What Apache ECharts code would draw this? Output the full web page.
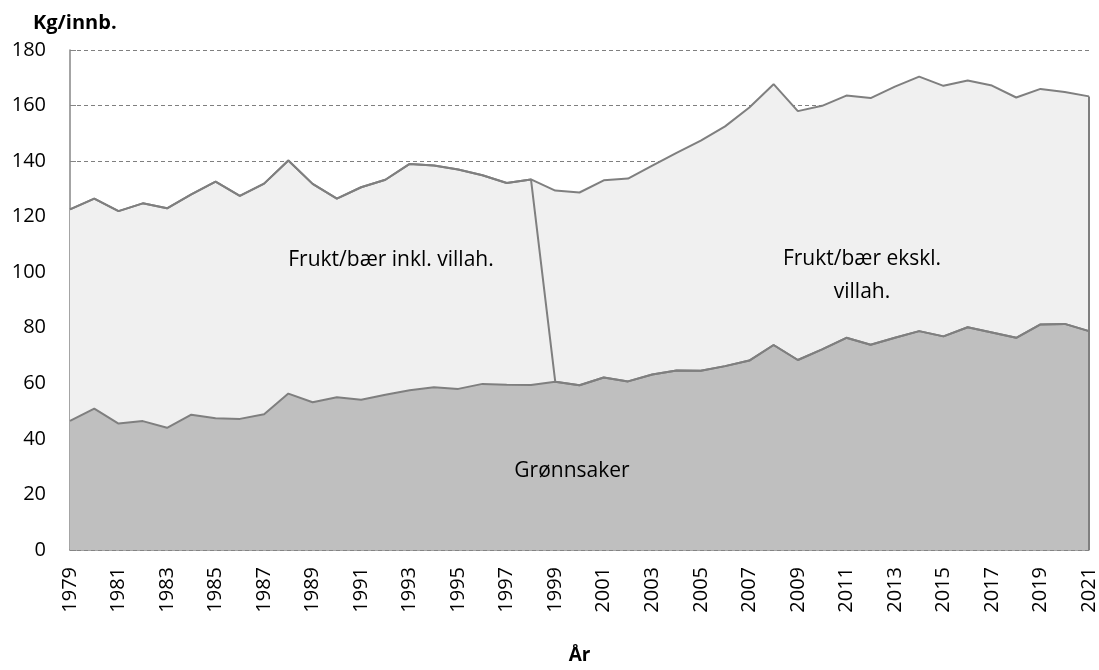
<!DOCTYPE html>
<html>
<head>
<meta charset="utf-8">
<script src="https://cdn.jsdelivr.net/npm/echarts@6/dist/echarts.min.js"></script>
<style>
  html, body { margin: 0; padding: 0; background: #fff; }
  #chart { width: 1099px; height: 670px; }
</style>
</head>
<body>
<div id="chart"></div>
<script>
const years = [];
for (let y = 1979; y <= 2021; y++) years.push(String(y));

// Kg per innbygger, lest av figuren
const gronnsaker = [
  46.5, 50.9, 45.5, 46.4, 44.0, 48.7, 47.4, 47.2, 48.9, 56.3,
  53.2, 55.0, 54.1, 55.9, 57.5, 58.6, 58.0, 59.8, 59.5, 59.4,
  60.6, 59.3, 62.1, 60.7, 63.2, 64.6, 64.5, 66.2, 68.2, 73.8,
  68.4, 72.2, 76.4, 73.9, 76.4, 78.8, 76.9, 80.2, 78.3, 76.4,
  81.2, 81.4, 78.8
];
const fruktInkl = [
  76.1, 75.6, 76.5, 78.4, 79.0, 79.3, 85.2, 80.3, 83.0, 83.9,
  78.6, 71.5, 76.5, 77.4, 81.5, 79.8, 79.0, 75.1, 72.6, 74.0,
  0, 0, 0, 0, 0, 0, 0, 0, 0, 0,
  0, 0, 0, 0, 0, 0, 0, 0, 0, 0,
  0, 0, 0
];
const fruktEkskl = [
  0, 0, 0, 0, 0, 0, 0, 0, 0, 0,
  0, 0, 0, 0, 0, 0, 0, 0, 0, 0,
  68.8, 69.4, 71.0, 73.0, 75.2, 78.4, 82.9, 86.3, 91.1, 93.9,
  89.6, 87.7, 87.2, 88.8, 90.4, 91.6, 90.2, 88.8, 88.9, 86.5,
  84.8, 83.5, 84.5
];

const font = 'Open Sans';
const lineColor = '#7f7f7f';
const axisColor = '#868686';

const chart = echarts.init(document.getElementById('chart'));

const areaSeries = (name, data, fill) => ({
  name: name,
  type: 'line',
  stack: 'total',
  data: data,
  symbol: 'none',
  lineStyle: { color: lineColor, width: 2 },
  areaStyle: { color: fill, opacity: 1 },
});

// siste år: loddrett kant på høyre side av arealet
const last = years.length - 1;
const lastTotal = gronnsaker[last] + fruktInkl[last] + fruktEkskl[last];

const ekskl = areaSeries('Frukt/bær ekskl. villah.', fruktEkskl, '#f0f0f0');
ekskl.markLine = {
  silent: true,
  symbol: 'none',
  label: { show: false },
  lineStyle: { color: lineColor, width: 2, type: 'solid' },
  data: [[{ coord: [years[last], 0] }, { coord: [years[last], lastTotal] }]],
};

chart.setOption({
  animation: false,
  textStyle: { fontFamily: font },
  grid: { left: 70, right: 9, top: 50, bottom: 118 },
  xAxis: {
    type: 'category',
    data: years,
    boundaryGap: false,
    name: 'År',
    nameLocation: 'middle',
    nameGap: 96,
    nameTextStyle: { fontSize: 19, fontWeight: 'bold', color: '#000' },
    axisLine: { lineStyle: { color: axisColor, width: 1.5 } },
    axisTick: { inside: true, length: 6, interval: 0, lineStyle: { color: axisColor } },
    axisLabel: { interval: 1, rotate: 90, margin: 17, fontSize: 20, color: '#000' },
    splitLine: { show: false },
  },
  yAxis: {
    type: 'value',
    min: 0,
    max: 180,
    interval: 20,
    axisLine: { show: true, lineStyle: { color: axisColor, width: 1.5 } },
    axisTick: { show: true, inside: true, length: 6, lineStyle: { color: axisColor } },
    axisLabel: { fontSize: 20, color: '#000', margin: 24 },
    splitLine: { lineStyle: { color: lineColor, type: [4, 3], width: 1 } },
  },
  series: [
    areaSeries('Grønnsaker', gronnsaker, '#bfbfbf'),
    areaSeries('Frukt/bær inkl. villah.', fruktInkl, '#f0f0f0'),
    ekskl,
  ],
  graphic: [
    { type: 'text', z: 100, left: 33, top: 13, style: { text: 'Kg/innb.', font: 'bold 20px "Open Sans"', fill: '#000' } },
    { type: 'text', z: 100, x: 391, y: 260, style: { text: 'Frukt/bær inkl. villah.', font: '21px "Open Sans"', fill: '#000', align: 'center', verticalAlign: 'middle' } },
    { type: 'text', z: 100, x: 862, y: 276, style: { text: 'Frukt/bær ekskl.\nvillah.', font: '21px "Open Sans"', lineHeight: 33, fill: '#000', align: 'center', verticalAlign: 'middle' } },
    { type: 'text', z: 100, x: 572, y: 471, style: { text: 'Grønnsaker', font: '21px "Open Sans"', fill: '#000', align: 'center', verticalAlign: 'middle' } },
  ],
});

window.addEventListener('resize', function () {
  chart.resize();
});
</script>
</body>
</html>
